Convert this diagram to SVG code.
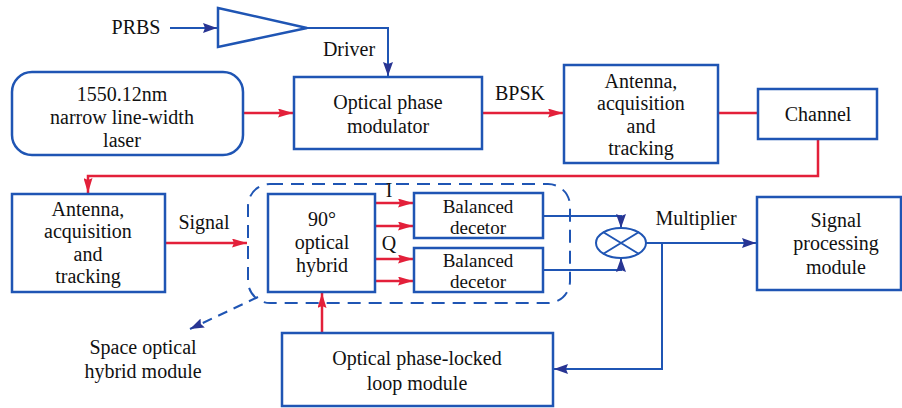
<svg xmlns="http://www.w3.org/2000/svg" width="902" height="408" viewBox="0 0 902 408">
<style>
text{font-family:'Liberation Serif','Times New Roman',serif;font-size:20px;fill:#111;text-anchor:middle}
.s{font-size:19px}
.box{fill:#fff;stroke:#1f55b4;stroke-width:2.5}
.b{fill:none;stroke:#1f55b4;stroke-width:2}
.r{fill:none;stroke:#e3203a;stroke-width:2.5}
</style>
<defs>
<marker id="ab" viewBox="0 0 14 10" refX="14" refY="5" markerWidth="14" markerHeight="10" markerUnits="userSpaceOnUse" orient="auto"><path d="M0,0L14,5L0,10L2,5z" fill="#283593"/></marker>
<marker id="ar" viewBox="0 0 15 9" refX="15" refY="4.5" markerWidth="15" markerHeight="9" markerUnits="userSpaceOnUse" orient="auto"><path d="M0,0L15,4.5L0,9L2,4.5z" fill="#e3203a"/></marker>
</defs>
<rect width="902" height="408" fill="#fff"/>
<g id="connectors">
<path class="b" d="M170,28H217" marker-end="url(#ab)"/>
<path class="b" d="M307,28H388V76" marker-end="url(#ab)"/>
<path class="r" d="M243,113H293" marker-end="url(#ar)"/>
<path class="r" d="M482,113H563" marker-end="url(#ar)"/>
<path class="r" d="M718,113H758"/>
<path class="r" d="M818,139V176H88V193" marker-end="url(#ar)"/>
<path class="r" d="M165,243H247" marker-end="url(#ar)"/>
<path class="r" d="M375,203H413" marker-end="url(#ar)"/>
<path class="r" d="M375,226H413" marker-end="url(#ar)"/>
<path class="r" d="M375,259H413" marker-end="url(#ar)"/>
<path class="r" d="M375,281H413" marker-end="url(#ar)"/>
<path class="r" d="M322,333V293" marker-end="url(#ar)"/>
<path class="b" d="M543,216H621V228" marker-end="url(#ab)"/>
<path class="b" d="M543,270H621V258" marker-end="url(#ab)"/>
<path class="b" d="M646,243H756" marker-end="url(#ab)"/>
<path class="b" d="M662,243V369H554" marker-end="url(#ab)"/>
<path class="b" d="M258,297L190,329" stroke-dasharray="10,7" marker-end="url(#ab)"/>
</g>
<g id="prbs"><text x="136" y="34">PRBS</text></g>
<g id="driver">
<path class="box" d="M218,8L307,28L218,47z"/>
<text x="349" y="56">Driver</text>
</g>
<g id="laser">
<rect class="box" x="12" y="72" width="231" height="83" rx="20"/>
<text x="122" y="101">1550.12nm</text>
<text x="122" y="124">narrow line-width</text>
<text x="122" y="147">laser</text>
</g>
<g id="modulator">
<rect class="box" x="294" y="77" width="188" height="72"/>
<text x="388" y="109">Optical phase</text>
<text x="388" y="133">modulator</text>
</g>
<g id="bpsk"><text x="520" y="100">BPSK</text></g>
<g id="antenna1">
<rect class="box" x="564" y="65" width="154" height="98"/>
<text x="641" y="88">Antenna,</text>
<text x="641" y="110">acquisition</text>
<text x="641" y="133">and</text>
<text x="641" y="155">tracking</text>
</g>
<g id="channel">
<rect class="box" x="758" y="89" width="119" height="50"/>
<text x="818" y="121">Channel</text>
</g>
<g id="antenna2">
<rect class="box" x="12" y="194" width="153" height="98"/>
<text x="88" y="216">Antenna,</text>
<text x="88" y="238">acquisition</text>
<text x="88" y="261">and</text>
<text x="88" y="283">tracking</text>
</g>
<g id="signal"><text x="204" y="229">Signal</text></g>
<g id="space-hybrid">
<rect x="248" y="184" width="322" height="119" rx="22" fill="none" stroke="#1f55b4" stroke-width="2" stroke-dasharray="13,8"/>
<text x="143" y="354">Space optical</text>
<text x="143" y="378">hybrid module</text>
</g>
<g id="hybrid">
<rect class="box" x="268" y="194" width="107" height="98"/>
<text x="322" y="226">90°</text>
<text x="322" y="249">optical</text>
<text x="322" y="272">hybrid</text>
<text x="389" y="197">I</text>
<text x="389" y="250">Q</text>
</g>
<g id="bd1">
<rect class="box" x="414" y="193" width="129" height="45"/>
<text class="s" x="478" y="213">Balanced</text>
<text class="s" x="478" y="234">decetor</text>
</g>
<g id="bd2">
<rect class="box" x="414" y="248" width="129" height="44"/>
<text class="s" x="478" y="267">Balanced</text>
<text class="s" x="478" y="288">decetor</text>
</g>
<g id="multiplier">
<ellipse cx="621" cy="243" rx="25" ry="15" fill="#fff" stroke="#1f55b4" stroke-width="2"/>
<path class="b" d="M603,232L639,254M639,232L603,254"/>
<text x="696" y="225">Multiplier</text>
</g>
<g id="sigproc">
<rect class="box" x="757" y="197" width="144" height="93"/>
<text x="836" y="227">Signal</text>
<text x="836" y="250">processing</text>
<text x="836" y="274">module</text>
</g>
<g id="pll">
<rect class="box" x="282" y="333" width="271" height="73"/>
<text x="417" y="365">Optical phase-locked</text>
<text x="417" y="390">loop module</text>
</g>
</svg>
